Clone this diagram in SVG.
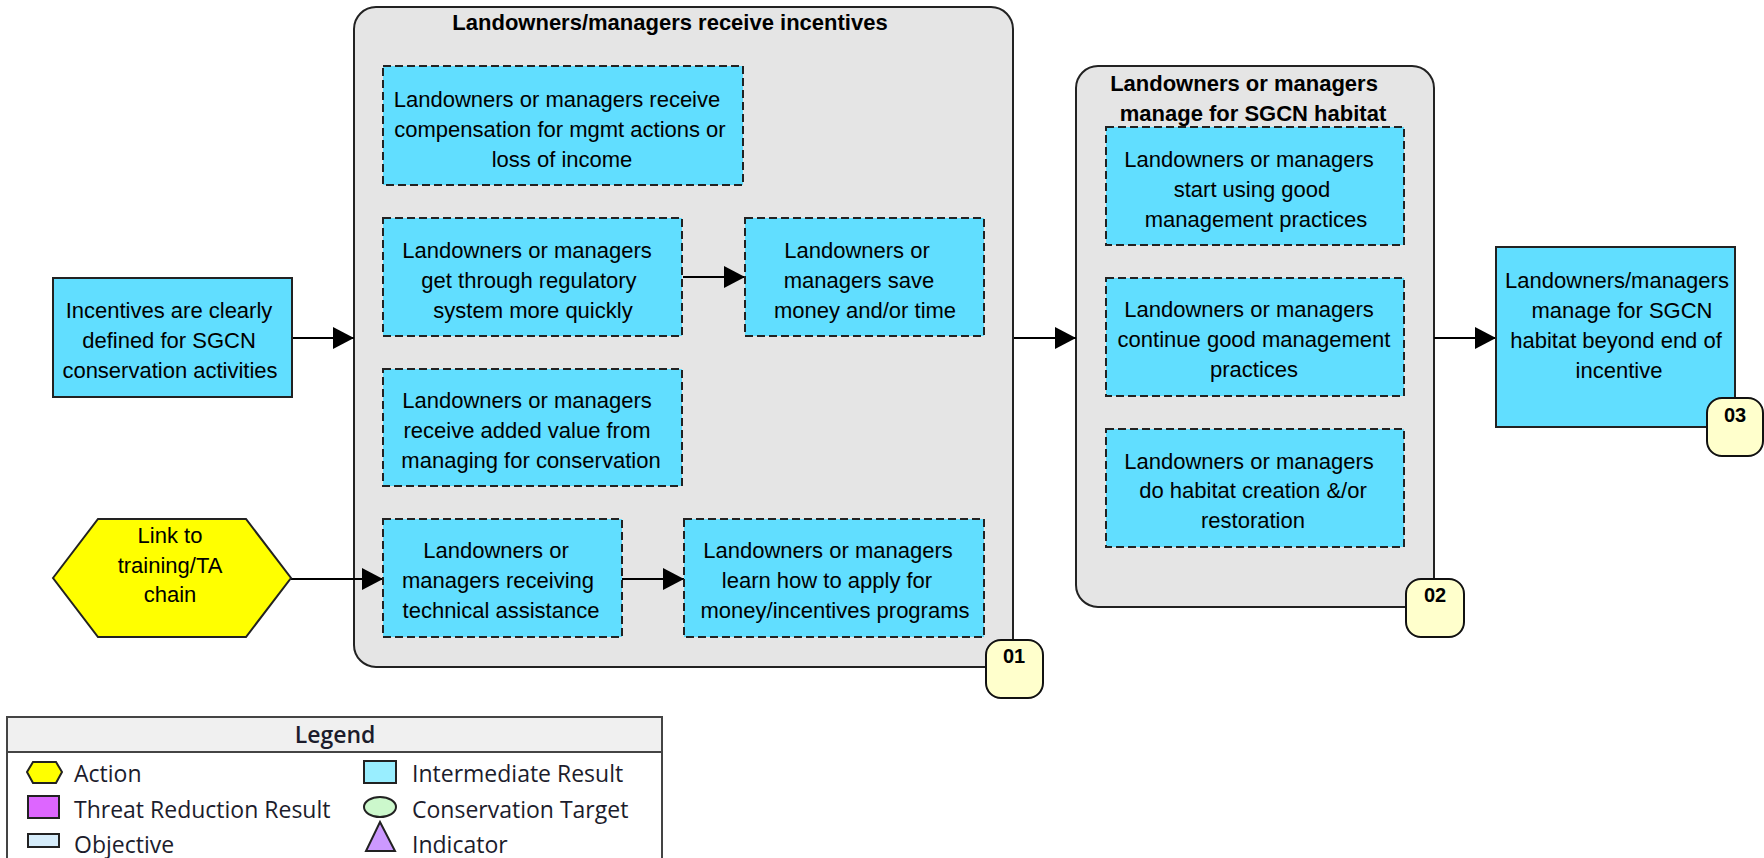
<svg xmlns="http://www.w3.org/2000/svg" width="1764" height="858" viewBox="0 0 1764 858">
  <defs>
    <marker id="arrow" markerUnits="userSpaceOnUse" viewBox="0 0 21 22" refX="21" refY="11" markerWidth="21" markerHeight="22" orient="auto">
      <path d="M0,0 L21,11 L0,22 z" fill="#000"/>
    </marker>
  </defs>
  <style>
    .group { fill: #e5e5e5; stroke: #222; stroke-width: 2; }
    .ir { fill: #61deff; stroke: #222; stroke-width: 2; stroke-dasharray: 8 4; }
    .ir-solid { fill: #61deff; stroke: #222; stroke-width: 2; }
    .action { fill: #ffff00; stroke: #222; stroke-width: 2; }
    .badge { fill: #ffffcc; stroke: #111; stroke-width: 2; }
    .lbl { font-family: "Liberation Sans", Arial, sans-serif; font-size: 22px; fill: #000; text-anchor: middle; }
    .title { font-family: "Liberation Sans", Arial, sans-serif; font-size: 22px; font-weight: bold; fill: #000; text-anchor: middle; }
    .num { font-family: "Liberation Sans", Arial, sans-serif; font-size: 20px; font-weight: bold; fill: #000; text-anchor: middle; }
    .edge { fill: none; stroke: #000; stroke-width: 2; marker-end: url(#arrow); }
    .leg { font-family: "Open Sans", "Noto Sans", sans-serif; font-size: 23px; fill: #1c1c2c; }
  </style>

  <!-- Group containers (drawn first so their children sit on top) -->
  <g id="group-01">
    <rect class="group" x="354" y="7" width="659" height="660" rx="22"/>
    <text class="title" x="670" y="30">Landowners/managers receive incentives</text>
  </g>
  <g id="group-02">
    <rect class="group" x="1076" y="66" width="358" height="541" rx="22"/>
    <text class="title" x="1244" y="91">Landowners or managers</text>
    <text class="title" x="1253" y="121">manage for SGCN habitat</text>
  </g>

  <!-- Connectors -->
  <g id="connectors">
    <line class="edge" x1="292" y1="338" x2="354" y2="338"/>
    <line class="edge" x1="683" y1="277" x2="745" y2="277"/>
    <line class="edge" x1="291" y1="579" x2="383" y2="579"/>
    <line class="edge" x1="622" y1="579" x2="684" y2="579"/>
    <line class="edge" x1="1014" y1="338" x2="1076" y2="338"/>
    <line class="edge" x1="1434" y1="338" x2="1496" y2="338"/>
  </g>

  <!-- Nodes -->
  <g id="incentives-defined">
    <rect class="ir-solid" x="53" y="278" width="239" height="119"/>
    <text class="lbl" x="169" y="318">Incentives are clearly</text>
    <text class="lbl" x="169" y="348">defined for SGCN</text>
    <text class="lbl" x="170" y="378">conservation activities</text>
  </g>

  <g id="link-training">
    <polygon class="action" points="53,578 98,519 246,519 291,578 246,637 98,637"/>
    <text class="lbl" x="170" y="543">Link to</text>
    <text class="lbl" x="170" y="573">training/TA</text>
    <text class="lbl" x="170" y="602">chain</text>
  </g>

  <g id="receive-compensation">
    <rect class="ir" x="383" y="66" width="360" height="119"/>
    <text class="lbl" x="557" y="107">Landowners or managers receive</text>
    <text class="lbl" x="560" y="137">compensation for mgmt actions or</text>
    <text class="lbl" x="562" y="167">loss of income</text>
  </g>

  <g id="regulatory-quickly">
    <rect class="ir" x="383" y="218" width="299" height="118"/>
    <text class="lbl" x="527" y="258">Landowners or managers</text>
    <text class="lbl" x="529" y="288">get through regulatory</text>
    <text class="lbl" x="533" y="318">system more quickly</text>
  </g>

  <g id="save-money">
    <rect class="ir" x="745" y="218" width="239" height="118"/>
    <text class="lbl" x="857" y="258">Landowners or</text>
    <text class="lbl" x="859" y="288">managers save</text>
    <text class="lbl" x="865" y="318">money and/or time</text>
  </g>

  <g id="added-value">
    <rect class="ir" x="383" y="369" width="299" height="117"/>
    <text class="lbl" x="527" y="408">Landowners or managers</text>
    <text class="lbl" x="527" y="438">receive added value from</text>
    <text class="lbl" x="531" y="468">managing for conservation</text>
  </g>

  <g id="technical-assistance">
    <rect class="ir" x="383" y="519" width="239" height="118"/>
    <text class="lbl" x="496" y="558">Landowners or</text>
    <text class="lbl" x="498" y="588">managers receiving</text>
    <text class="lbl" x="501" y="618">technical assistance</text>
  </g>

  <g id="learn-apply">
    <rect class="ir" x="684" y="519" width="300" height="118"/>
    <text class="lbl" x="828" y="558">Landowners or managers</text>
    <text class="lbl" x="827" y="588">learn how to apply for</text>
    <text class="lbl" x="835" y="618">money/incentives programs</text>
  </g>

  <g id="start-good-practices">
    <rect class="ir" x="1106" y="127" width="298" height="118"/>
    <text class="lbl" x="1249" y="167">Landowners or managers</text>
    <text class="lbl" x="1252" y="197">start using good</text>
    <text class="lbl" x="1256" y="227">management practices</text>
  </g>

  <g id="continue-good-practices">
    <rect class="ir" x="1106" y="278" width="298" height="118"/>
    <text class="lbl" x="1249" y="317">Landowners or managers</text>
    <text class="lbl" x="1254" y="347">continue good management</text>
    <text class="lbl" x="1254" y="377">practices</text>
  </g>

  <g id="habitat-creation">
    <rect class="ir" x="1106" y="429" width="298" height="118"/>
    <text class="lbl" x="1249" y="469">Landowners or managers</text>
    <text class="lbl" x="1253" y="498">do habitat creation &amp;/or</text>
    <text class="lbl" x="1253" y="528">restoration</text>
  </g>

  <g id="manage-beyond-incentive">
    <rect class="ir-solid" x="1496" y="247" width="239" height="180"/>
    <text class="lbl" x="1617" y="288">Landowners/managers</text>
    <text class="lbl" x="1622" y="318">manage for SGCN</text>
    <text class="lbl" x="1616" y="348">habitat beyond end of</text>
    <text class="lbl" x="1619" y="378">incentive</text>
  </g>

  <!-- Numbered badges -->
  <g id="badge-01">
    <rect class="badge" x="986" y="640" width="57" height="58" rx="15"/>
    <text class="num" x="1014" y="663">01</text>
  </g>
  <g id="badge-02">
    <rect class="badge" x="1406" y="579" width="58" height="58" rx="15"/>
    <text class="num" x="1435" y="602">02</text>
  </g>
  <g id="badge-03">
    <rect class="badge" x="1707" y="398" width="56" height="58" rx="15"/>
    <text class="num" x="1735" y="422">03</text>
  </g>

  <!-- Legend -->
  <g id="legend">
    <rect x="7" y="717" width="655" height="160" fill="#fff" stroke="#444" stroke-width="2"/>
    <rect x="7" y="717" width="655" height="35" fill="#f0f0f0" stroke="#444" stroke-width="2"/>
    <text class="leg" x="335" y="743" text-anchor="middle" font-weight="600">Legend</text>

    <polygon points="27,772 33,762 56,762 62,772 56,783 33,783" fill="#ffff00" stroke="#222" stroke-width="2"/>
    <text class="leg" x="74" y="782">Action</text>

    <rect x="28" y="796" width="31" height="22" fill="#dd66ff" stroke="#222" stroke-width="2"/>
    <text class="leg" x="74" y="818">Threat Reduction Result</text>

    <rect x="28" y="834" width="31" height="13" fill="#d6ecfa" stroke="#222" stroke-width="2"/>
    <text class="leg" x="74" y="853">Objective</text>

    <rect x="364" y="761" width="32" height="22" fill="#99eeff" stroke="#222" stroke-width="2"/>
    <text class="leg" x="412" y="782">Intermediate Result</text>

    <ellipse cx="380" cy="807" rx="16" ry="10" fill="#ccf8cc" stroke="#222" stroke-width="2"/>
    <text class="leg" x="412" y="818">Conservation Target</text>

    <polygon points="380,822 395,851 366,851" fill="#cc99ff" stroke="#222" stroke-width="2"/>
    <text class="leg" x="412" y="853">Indicator</text>
  </g>
</svg>
